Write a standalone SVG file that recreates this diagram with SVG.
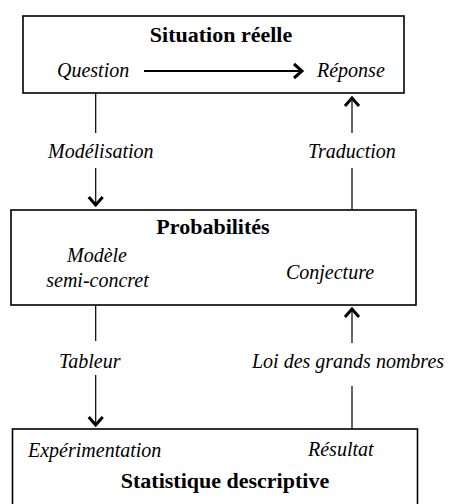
<svg xmlns="http://www.w3.org/2000/svg" width="449" height="504" viewBox="0 0 449 504">
  <style>
    .box { fill: #ffffff; stroke: #000000; stroke-width: 1.6; }
    .title { font-family: "Liberation Serif", "Times New Roman", serif; font-weight: bold; font-size: 22px; fill: #000; text-anchor: middle; }
    .it { font-family: "Liberation Serif", "Times New Roman", serif; font-style: italic; font-size: 20px; fill: #000; }
    .mid { text-anchor: middle; }
    .wire { stroke: #000; stroke-width: 1.2; fill: none; }
    .wire-thick { stroke: #000; stroke-width: 1.8; fill: none; }
  </style>
  <defs>
    <marker id="chev" viewBox="-10 -9 12 18" refX="0" refY="0" markerWidth="12" markerHeight="18" markerUnits="userSpaceOnUse" orient="auto">
      <path d="M-8,-7 L0,0 L-8,7" fill="none" stroke="#000" stroke-width="3" stroke-linejoin="miter"/>
    </marker>
  </defs>

  <rect width="449" height="504" fill="#ffffff"/>

  <!-- Real-world situation -->
  <g id="situation">
    <rect class="box" x="23" y="16" width="381" height="77"/>
    <text class="title" x="221" y="42">Situation réelle</text>
    <text class="it" x="57" y="77">Question</text>
    <text class="it" x="317" y="77">Réponse</text>
  </g>

  <!-- Probability model -->
  <g id="probabilites">
    <rect class="box" x="11" y="210" width="405" height="95"/>
    <text class="title" x="213" y="234">Probabilités</text>
    <text class="it mid" x="97" y="262">Modèle</text>
    <text class="it mid" x="97.5" y="287">semi-concret</text>
    <text class="it mid" x="330" y="279">Conjecture</text>
  </g>

  <!-- Descriptive statistics -->
  <g id="statistique">
    <rect class="box" x="12.5" y="429" width="405" height="100"/>
    <text class="it" x="28" y="457">Expérimentation</text>
    <text class="it" x="308" y="456">Résultat</text>
    <text class="title" x="225" y="488">Statistique descriptive</text>
  </g>

  <!-- Connectors and their labels -->
  <g id="connectors">
    <line class="wire-thick" x1="144" y1="71" x2="302" y2="71" marker-end="url(#chev)"/>

    <line class="wire" x1="95.7" y1="93" x2="95.7" y2="133"/>
    <text class="it" x="48" y="158">Modélisation</text>
    <line class="wire" x1="95.7" y1="168" x2="95.7" y2="205" marker-end="url(#chev)"/>

    <line class="wire" x1="352" y1="210" x2="352" y2="168"/>
    <text class="it" x="308" y="158">Traduction</text>
    <line class="wire" x1="352" y1="133" x2="352" y2="98" marker-end="url(#chev)"/>

    <line class="wire" x1="95.7" y1="305" x2="95.7" y2="341"/>
    <text class="it" x="59" y="368">Tableur</text>
    <line class="wire" x1="95.7" y1="375" x2="95.7" y2="425" marker-end="url(#chev)"/>

    <line class="wire" x1="352" y1="343" x2="352" y2="309" marker-end="url(#chev)"/>
    <text class="it" x="252" y="368">Loi des grands nombres</text>
    <line class="wire" x1="352" y1="386" x2="352" y2="429"/>
  </g>
</svg>
